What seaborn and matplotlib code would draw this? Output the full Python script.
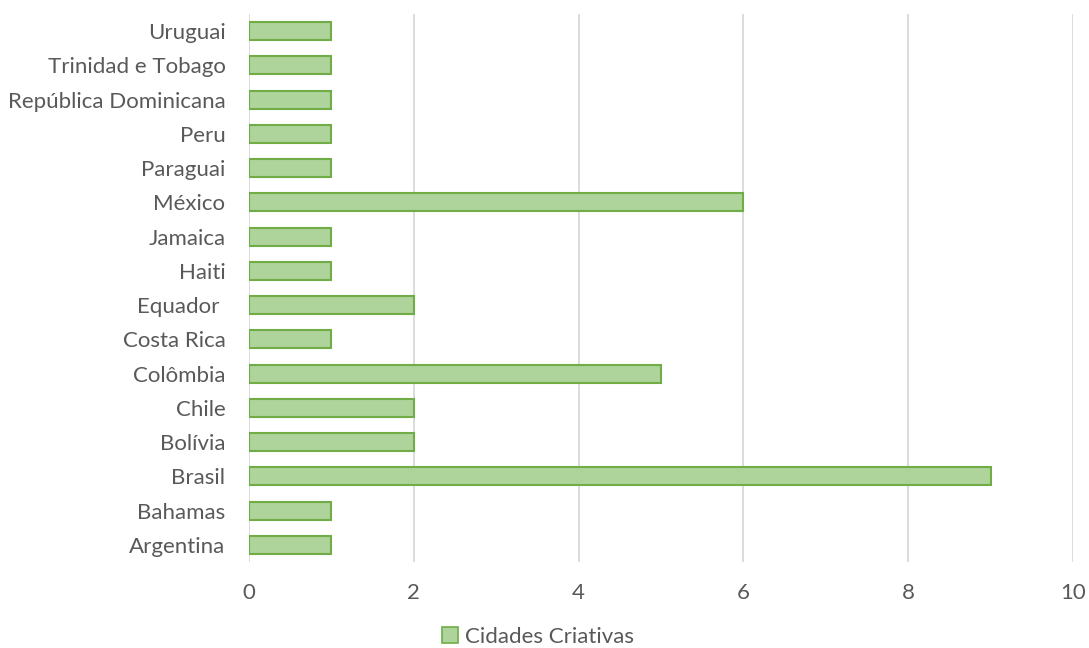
import matplotlib
matplotlib.use("Agg")
import matplotlib.pyplot as plt
import seaborn as sns
import pandas as pd
from matplotlib.patches import Patch

countries = ["Uruguai", "Trinidad e Tobago", "República Dominicana", "Peru", "Paraguai",
             "México", "Jamaica", "Haiti", "Equador ", "Costa Rica", "Colômbia", "Chile",
             "Bolívia", "Brasil", "Bahamas", "Argentina"]
cities = [1, 1, 1, 1, 1, 6, 1, 1, 2, 1, 5, 2, 2, 9, 1, 1]
series_name = "Cidades Criativas"

df = pd.DataFrame({"pais": countries, "valor": cities})

sns.set_theme(style="white")
plt.rcParams["font.family"] = ["Lato", "DejaVu Sans"]

text_color = "#595959"
fill = "#aed39b"
edge = "#70ad47"

fig = plt.figure(figsize=(10.89, 6.48), dpi=100)
ax = fig.add_axes([0.2287, 0.1327, 0.7566, 0.8457])

sns.barplot(data=df, x="valor", y="pais", orient="h", order=countries,
            color=fill, saturation=1, width=0.53, edgecolor=edge, linewidth=1.5, ax=ax)

ax.set_xlim(0, 10)
ax.set_xticks(range(0, 11, 2))
ax.set_ylim(len(countries) - 0.5, -0.5)
ax.grid(axis="x", color="#d9d9d9", linewidth=1.3)
ax.set_axisbelow(True)
for s in ax.spines.values():
    s.set_visible(False)
ax.set_xlabel("")
ax.set_ylabel("")
ax.tick_params(axis="both", length=0, labelsize=16, colors=text_color)
ax.tick_params(axis="x", pad=15)
ax.tick_params(axis="y", pad=17)

handle = Patch(facecolor=fill, edgecolor=edge, linewidth=1.2)
fig.legend([handle], [series_name], loc="center", bbox_to_anchor=(0.494, 0.017),
           frameon=False, fontsize=16, labelcolor=text_color,
           handlelength=0.75, handleheight=0.75, handletextpad=0.3)

fig.savefig("out.png", dpi=100, facecolor="white")
